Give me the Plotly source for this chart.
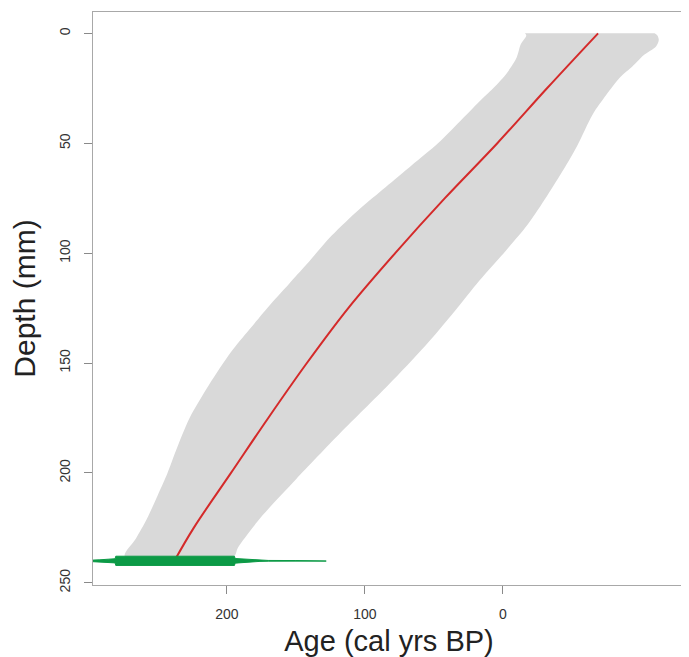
import plotly.graph_objects as go

# ---- data ----
# Grey age-depth envelope: older (left) edge and younger (right) edge
old_depth = [0, 1, 5, 11, 18, 25, 31, 40, 50, 60, 70, 80, 92, 105, 114, 123, 135, 145, 160, 175, 190, 200, 210, 221, 230, 238]
old_age = [-16, -17, -13, -10, -3, 7, 17, 31, 47, 66, 85, 104, 124, 142, 155, 168, 184, 197, 213, 227, 237, 243, 250, 258, 266, 274]

young_depth = [0, 1, 3, 6, 10, 15, 20, 28, 37, 51, 62, 74, 87, 99, 114, 128, 142, 160, 182, 203, 220, 234, 238]
young_age = [-110, -112, -113, -111, -102, -94, -85, -75, -65, -54, -44, -32, -18, -2, 19, 37, 56, 83, 118, 150, 175, 192, 195]

# Median age model (red line)
median_depth = [0, 25, 50, 75, 100, 125, 150, 175, 200, 225, 240]
median_age = [-69, -32, 4, 42, 78, 112, 142, 170, 197, 224, 238]

# Calibrated date at 240 mm (green distribution)
date_depth = 240
date_age = [305, 297, 292, 286, 281, 280.5, 260, 240, 220, 200, 194.5, 194, 190, 185, 181, 176, 170, 150, 128]
date_prob = [0.06, 0.1, 0.22, 0.35, 0.45, 1, 1, 1, 1, 1, 1, 0.5, 0.42, 0.3, 0.2, 0.12, 0.08, 0.06, 0.05]

depth_ticks = [0, 50, 100, 150, 200, 250]
age_ticks = [0, 100, 200]

# ---- figure ----
fig = go.Figure()

# envelope polygon
env_x = old_age + young_age[::-1]
env_y = old_depth + young_depth[::-1]
fig.add_trace(go.Scatter(x=env_x, y=env_y, fill="toself", fillcolor="#d9d9d9",
                         line=dict(width=0, color="#d9d9d9", shape="spline", smoothing=0.8),
                         mode="lines", hoverinfo="skip", showlegend=False))

# median
fig.add_trace(go.Scatter(x=median_age, y=median_depth, mode="lines",
                         line=dict(color="#d42a2a", width=2, shape="spline", smoothing=1.0),
                         showlegend=False))

# calibrated date shape
half = 2.1
gx = date_age + date_age[::-1]
gy = [date_depth - p * half for p in date_prob] + [date_depth + p * half for p in date_prob[::-1]]
fig.add_trace(go.Scatter(x=gx, y=gy, fill="toself", fillcolor="#0c9a46",
                         line=dict(width=1, color="#0c9a46"), mode="lines",
                         hoverinfo="skip", showlegend=False))

font_family = "Liberation Sans, Arial, sans-serif"
axis_common = dict(showline=True, linecolor="#a8a8a8", linewidth=1.2, mirror=True,
                   showgrid=False, zeroline=False, ticks="outside", ticklen=8,
                   tickcolor="#8a8a8a", tickwidth=1,
                   tickfont=dict(family=font_family, size=14, color="#333333"),
                   automargin=False)

# the page body adds an 8px offset, so the figure is sized to fit the window
fig.update_layout(
    width=681, height=649,
    margin=dict(l=85, r=4, t=4, b=72),
    plot_bgcolor="white", paper_bgcolor="white",
    xaxis=dict(range=[297, -132], tickvals=age_ticks, ticklabelstandoff=8,
               title=dict(text="Age (cal yrs BP)", standoff=9,
                          font=dict(family=font_family, size=29, color="#222222")),
               **axis_common),
    yaxis=dict(range=[251, -9.7], tickvals=depth_ticks, tickangle=-90, ticklabelstandoff=8,
               title=dict(text="Depth (mm)", standoff=14,
                          font=dict(family=font_family, size=30, color="#222222")),
               **axis_common),
)

fig.write_html("out.html")
